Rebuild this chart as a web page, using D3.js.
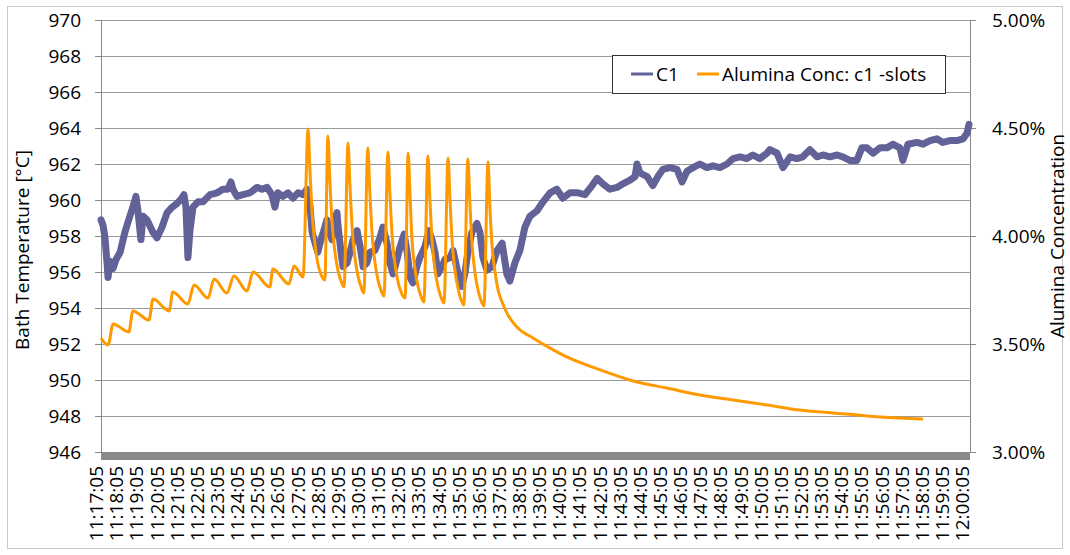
<!DOCTYPE html>
<html><head><meta charset="utf-8">
<script src="https://cdn.jsdelivr.net/npm/d3@7"></script>
<style>
body{margin:0;background:#fff}
svg{display:block}
text{font-family:"Open Sans",sans-serif;fill:#000}
</style>
</head><body>
<svg id="chart" width="1070" height="555"></svg>
<script>
// ---------- DATA ----------
const xLabels = ["11:17:05","11:18:05","11:19:05","11:20:05","11:21:05","11:22:05","11:23:05","11:24:05","11:25:05","11:26:05","11:27:05","11:28:05","11:29:05","11:30:05","11:31:05","11:32:05","11:33:05","11:34:05","11:35:05","11:36:05","11:37:05","11:38:05","11:39:05","11:40:05","11:41:05","11:42:05","11:43:05","11:44:05","11:45:05","11:46:05","11:47:05","11:48:05","11:49:05","11:50:05","11:51:05","11:52:05","11:53:05","11:54:05","11:55:05","11:56:05","11:57:05","11:58:05","11:59:05","12:00:05"];
const timeStart = "11:17:05";
const timeEnd = "12:00:14";
const tempTicks = [946,948,950,952,954,956,958,960,962,964,966,968,970];
const concTicks = [3.0,3.5,4.0,4.5,5.0];

const tempTime = ["11:17:05","11:17:11","11:17:17","11:17:23","11:17:26","11:17:32","11:17:41","11:17:50","11:18:02","11:18:16","11:18:31","11:18:40","11:18:49","11:18:55","11:19:04","11:19:10","11:19:22","11:19:40","11:19:52","11:20:07","11:20:22","11:20:37","11:20:51","11:21:06","11:21:12","11:21:18","11:21:24","11:21:30","11:21:39","11:21:54","11:22:09","11:22:30","11:22:51","11:23:08","11:23:23","11:23:32","11:23:38","11:23:50","11:24:08","11:24:29","11:24:50","11:25:05","11:25:20","11:25:34","11:25:43","11:25:52","11:26:07","11:26:22","11:26:37","11:26:52","11:27:07","11:27:19","11:27:28","11:27:34","11:27:43","11:27:51","11:28:00","11:28:09","11:28:18","11:28:24","11:28:33","11:28:36","11:28:48","11:28:51","11:29:00","11:29:06","11:29:18","11:29:27","11:29:36","11:29:48","11:29:57","11:30:06","11:30:17","11:30:26","11:30:41","11:30:56","11:31:05","11:31:17","11:31:26","11:31:35","11:31:47","11:31:56","11:32:08","11:32:17","11:32:26","11:32:34","11:32:46","11:32:55","11:33:10","11:33:22","11:33:31","11:33:40","11:33:49","11:34:01","11:34:10","11:34:25","11:34:34","11:34:49","11:35:00","11:35:09","11:35:18","11:35:30","11:35:45","11:35:54","11:36:03","11:36:15","11:36:30","11:36:45","11:37:00","11:37:14","11:37:23","11:37:38","11:37:53","11:38:08","11:38:23","11:38:44","11:39:02","11:39:23","11:39:43","11:40:01","11:40:22","11:40:46","11:41:07","11:41:28","11:41:43","11:42:00","11:42:21","11:42:42","11:43:00","11:43:21","11:43:36","11:43:42","11:43:51","11:44:12","11:44:29","11:44:44","11:44:59","11:45:20","11:45:41","11:45:56","11:46:11","11:46:29","11:46:49","11:47:10","11:47:28","11:47:49","11:48:10","11:48:28","11:48:49","11:49:09","11:49:27","11:49:48","11:50:09","11:50:18","11:50:39","11:50:57","11:51:18","11:51:38","11:51:56","11:52:17","11:52:38","11:52:56","11:53:17","11:53:38","11:53:55","11:54:16","11:54:37","11:54:52","11:55:07","11:55:25","11:55:46","11:56:07","11:56:24","11:56:45","11:56:54","11:57:09","11:57:36","11:57:54","11:58:15","11:58:35","11:58:53","11:59:14","11:59:35","11:59:53","12:00:05","12:00:11"];
const tempValue = [958.9,958.6,957.9,956.5,955.7,956.6,956.2,956.7,957.1,958.2,959.1,959.6,960.2,959.4,957.8,959.1,958.9,958.2,957.9,958.5,959.3,959.6,959.8,960.1,960.3,959.6,956.8,958.3,959.6,959.9,959.9,960.3,960.4,960.6,960.6,961.0,960.6,960.2,960.3,960.4,960.7,960.6,960.7,960.3,959.6,960.4,960.2,960.4,960.1,960.4,960.3,960.6,959.6,958.2,957.6,957.1,957.8,958.3,958.9,958.3,957.8,958.5,959.3,958.6,957.1,956.3,956.5,957.1,957.8,958.3,957.4,956.3,956.5,957.1,957.2,957.9,958.5,957.6,956.5,955.9,956.7,957.4,958.1,957.1,955.7,955.4,956.3,956.8,957.4,958.3,957.8,957.1,955.9,956.3,956.7,956.8,957.2,955.9,955.2,955.9,957.1,958.2,958.7,958.2,956.8,956.1,956.3,957.2,957.6,955.9,955.5,956.5,957.2,958.5,959.1,959.4,959.9,960.4,960.6,960.1,960.4,960.4,960.3,960.8,961.2,960.9,960.6,960.7,960.9,961.1,961.3,962.0,961.5,961.3,960.8,961.3,961.7,961.8,961.7,961.0,961.6,961.8,962.0,961.8,961.9,961.8,962.0,962.3,962.4,962.3,962.5,962.3,962.6,962.8,962.6,961.8,962.4,962.3,962.4,962.8,962.4,962.5,962.4,962.5,962.4,962.2,962.2,962.9,962.9,962.6,962.9,962.9,963.1,962.9,962.2,963.1,963.2,963.1,963.3,963.4,963.2,963.3,963.3,963.4,963.7,964.2];

const alumTime = ["11:17:05","11:17:26","11:17:41","11:18:28","11:18:40","11:19:28","11:19:40","11:20:28","11:20:39","11:21:24","11:21:42","11:22:24","11:22:42","11:23:20","11:23:41","11:24:20","11:24:38","11:25:28","11:25:37","11:26:25","11:26:40","11:27:07",
"11:27:22","11:27:28","11:27:34","11:27:43","11:27:51","11:28:00","11:28:12",
"11:28:21","11:28:27","11:28:33","11:28:42","11:28:51","11:29:00","11:29:09",
"11:29:21","11:29:27","11:29:33","11:29:42","11:29:51","11:30:00","11:30:08",
"11:30:20","11:30:26","11:30:32","11:30:41","11:30:50","11:30:59","11:31:08",
"11:31:20","11:31:26","11:31:32","11:31:41","11:31:50","11:31:59","11:32:11",
"11:32:20","11:32:26","11:32:31","11:32:40","11:32:49","11:32:58","11:33:07",
"11:33:19","11:33:25","11:33:31","11:33:40","11:33:49","11:33:58","11:34:07",
"11:34:19","11:34:25","11:34:31","11:34:40","11:34:49","11:34:57","11:35:06",
"11:35:18","11:35:24","11:35:30","11:35:39","11:35:48","11:35:57","11:36:06",
"11:36:18","11:36:24","11:36:30","11:36:39","11:36:48","11:37:00","11:37:14","11:37:44","11:38:32","11:39:23","11:40:13","11:41:52","11:43:30","11:45:11","11:46:49","11:48:28","11:50:09","11:51:47","11:53:26","11:55:07","11:56:45","11:57:54"];
const alumValue = [3.528,3.495,3.593,3.556,3.653,3.611,3.708,3.653,3.741,3.685,3.773,3.713,3.801,3.736,3.815,3.745,3.833,3.764,3.847,3.778,3.861,3.810,
4.495,4.286,4.104,3.957,3.873,3.824,3.796,
4.463,4.253,4.071,3.925,3.841,3.792,3.764,
4.431,4.222,4.042,3.896,3.812,3.764,3.736,
4.407,4.202,4.024,3.880,3.798,3.750,3.722,
4.389,4.186,4.010,3.869,3.787,3.740,3.713,
4.384,4.177,3.998,3.853,3.770,3.722,3.694,
4.370,4.166,3.989,3.846,3.765,3.717,3.690,
4.361,4.157,3.980,3.837,3.756,3.708,3.681,
4.356,4.152,3.975,3.832,3.751,3.703,3.676,
4.343,4.120,3.958,3.833,3.750,3.694,3.644,3.579,3.528,3.481,3.440,3.380,3.329,3.296,3.264,3.241,3.218,3.194,3.181,3.167,3.157,3.153];

const seriesNames = ["C1","Alumina Conc: c1 -slots"];
const seriesColors = ["#626298","#ff9900"];

// ---------- DRAW ----------
const parseT = s => { const p = s.split(":").map(Number); return p[0]*3600 + p[1]*60 + p[2]; };
const svg = d3.select("#chart");
const P = {l:101, r:970, t:20, b:452};
const FS = 19;

const x = d3.scaleLinear().domain([parseT(timeStart), parseT(timeEnd)]).range([P.l, P.r]);
const yT = d3.scaleLinear().domain([946,970]).range([P.b, P.t]);
const yC = d3.scaleLinear().domain([3,5]).range([P.b, P.t]);

// outer frame
svg.append("rect").attr("x",7.5).attr("y",6.5).attr("width",1055).attr("height",542)
  .attr("fill","#fff").attr("stroke","#c8c8c8");

// gridlines
svg.append("g").attr("transform",`translate(${P.l},0)`)
  .call(d3.axisLeft(yT).tickValues(tempTicks).tickSize(-(P.r-P.l)).tickFormat(""))
  .call(g => g.select(".domain").remove())
  .selectAll("line").attr("stroke","#9a9a9a");

// left axis
const gl = svg.append("g").attr("transform",`translate(${P.l},0)`)
  .call(d3.axisLeft(yT).tickValues(tempTicks).tickSize(6).tickPadding(14));
gl.select(".domain").remove();
gl.selectAll("line").attr("stroke","#888");
gl.selectAll("text").attr("font-size",FS).attr("font-family","Open Sans").attr("fill","#000");
svg.append("line").attr("x1",P.l+0.5).attr("x2",P.l+0.5).attr("y1",P.t).attr("y2",P.b+8).attr("stroke","#888");

// right axis
const gr = svg.append("g").attr("transform",`translate(${P.r},0)`)
  .call(d3.axisRight(yC).tickValues(concTicks).tickSize(6).tickPadding(16).tickFormat(d => d.toFixed(2)+"%"));
gr.select(".domain").remove();
gr.selectAll("line").attr("stroke","#888");
gr.selectAll("text").attr("font-size",FS).attr("font-family","Open Sans").attr("fill","#000");
svg.append("line").attr("x1",P.r+0.5).attr("x2",P.r+0.5).attr("y1",P.t).attr("y2",P.b).attr("stroke","#888");

// bottom category axis band (dense tick marks)
svg.append("rect").attr("x",P.l).attr("y",P.b).attr("width",P.r-P.l).attr("height",8).attr("fill","#8a8a8a");

// x labels
const gx = svg.append("g");
gx.selectAll("text").data(xLabels).join("text")
  .attr("transform", d => `translate(${x(parseT(d))-4.5},466) rotate(-90)`)
  .attr("text-anchor","end").attr("dy","0.35em")
  .attr("font-size",FS).text(d => d);

// axis titles
svg.append("text").attr("transform",`translate(22,${(P.t+P.b)/2+14}) rotate(-90)`)
  .attr("text-anchor","middle").attr("dy","0.35em").attr("font-size",FS).text("Bath Temperature [°C]");
svg.append("text").attr("transform",`translate(1057,${(P.t+P.b)/2}) rotate(-90)`)
  .attr("text-anchor","middle").attr("dy","0.35em").attr("font-size",FS).text("Alumina Concentration");

// series
const tempData = tempTime.map((t,i) => ({t:parseT(t), v:tempValue[i]}));
const alumData = alumTime.map((t,i) => ({t:parseT(t), v:alumValue[i]}));

svg.append("path").datum(tempData)
  .attr("d", d3.line().x(d => x(d.t)).y(d => yT(d.v)))
  .attr("fill","none").attr("stroke",seriesColors[0]).attr("stroke-width",7)
  .attr("stroke-linejoin","round").attr("stroke-linecap","round");

svg.append("path").datum(alumData)
  .attr("d", d3.line().curve(d3.curveMonotoneX).x(d => x(d.t)).y(d => yC(d.v)))
  .attr("fill","none").attr("stroke",seriesColors[1]).attr("stroke-width",3)
  .attr("stroke-linejoin","round");

// legend
const lg = svg.append("g");
lg.append("rect").attr("x",612.5).attr("y",55.5).attr("width",333).attr("height",38)
  .attr("fill","#fff").attr("stroke","#333");
const legX = [631, 697];
seriesNames.forEach((n,i) => {
  lg.append("line").attr("x1",legX[i]).attr("x2",legX[i]+22).attr("y1",74).attr("y2",74)
    .attr("stroke",seriesColors[i]).attr("stroke-width",3);
  lg.append("text").attr("x",legX[i]+25).attr("y",74).attr("dy","0.35em")
    .attr("font-size",FS).text(n);
});
</script>
</body></html>
